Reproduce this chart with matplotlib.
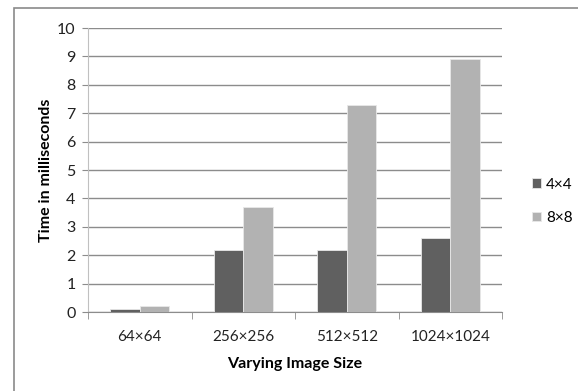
import matplotlib
matplotlib.use("Agg")
import matplotlib.pyplot as plt
import numpy as np
from matplotlib.patches import Rectangle

categories = ["64×64", "256×256", "512×512", "1024×1024"]
series_names = ["4×4", "8×8"]
vals_4x4 = [0.1, 2.2, 2.2, 2.6]
vals_8x8 = [0.2, 3.7, 7.3, 8.9]
yticks = list(range(0, 11))

plt.rcParams['font.family'] = ['Lato', 'DejaVu Sans']

W, H = 578, 391
fig = plt.figure(figsize=(W/100, H/100), dpi=100)
fig.patch.set_facecolor('white')

# outer frame
fig.patches.append(Rectangle((14/W, -0.05), 1.2, (H-8)/H + 0.05, transform=fig.transFigure,
                             fill=False, edgecolor='#8a8a8a', linewidth=1.2))

ax = fig.add_axes([88/W, 1-312/H, (502-88)/W, (312-28)/H])
x = np.arange(len(categories))
bw = 0.285
ax.bar(x - bw/2, vals_4x4, bw, color='#606060', edgecolor='#e8e8e8', linewidth=0.6, label=series_names[0], zorder=3)
ax.bar(x + bw/2, vals_8x8, bw, color='#b2b2b2', edgecolor='#e8e8e8', linewidth=0.6, label=series_names[1], zorder=3)

ax.set_xlim(-0.5, len(categories) - 0.5)
ax.set_ylim(0, 10)
ax.set_yticks(yticks)
ax.yaxis.grid(True, color='#8c8c8c', linewidth=1.0, zorder=0)
ax.set_axisbelow(True)
for s in ['top', 'right']:
    ax.spines[s].set_visible(False)
ax.spines['left'].set_color('#c0c0c0')
ax.spines['bottom'].set_color('#8c8c8c')
ax.tick_params(axis='y', length=4, color='#8c8c8c', labelsize=11.5, pad=5, labelcolor='#222222')
ax.set_xticks(x)
ax.set_xticklabels(categories)
ax.tick_params(axis='x', length=0, labelsize=11, pad=13, labelcolor='#222222')
ax.set_xticks(np.arange(-0.5, len(categories)), minor=True)
ax.tick_params(axis='x', which='minor', length=5, color='#8c8c8c')

ax.set_ylabel('Time in milliseconds', fontsize=11.5, fontweight='bold', labelpad=3)
ax.set_xlabel('Varying Image Size', fontsize=11.5, fontweight='bold', labelpad=9)

ax.legend(loc='center left', bbox_to_anchor=(1.04, 0.39), frameon=False, fontsize=11,
          handlelength=0.6, handleheight=0.6, handletextpad=0.3, labelspacing=1.25)

fig.savefig('out.png', dpi=100, facecolor='white')
